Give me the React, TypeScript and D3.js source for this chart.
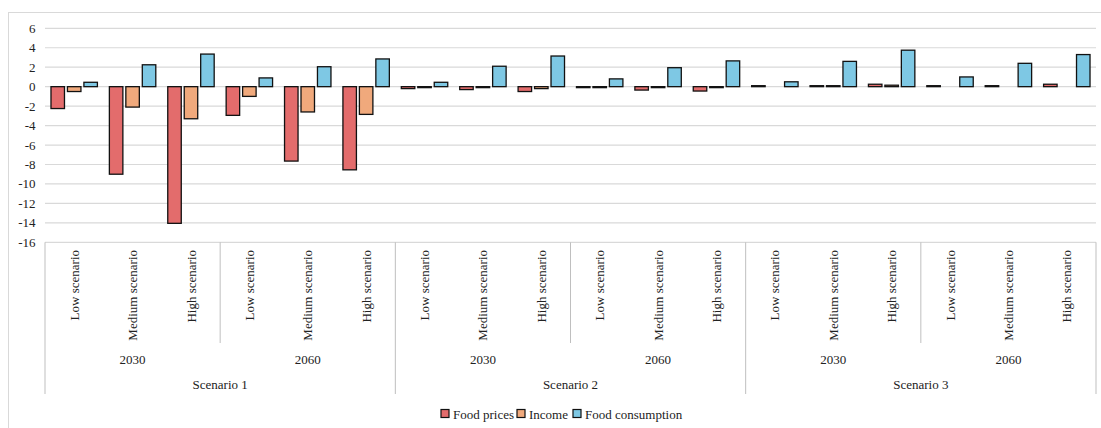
import React from "react";
import * as d3 from "d3";

const outerGroups = ["Scenario 1", "Scenario 2", "Scenario 3"];
const years = ["2030", "2060"];
const levels = ["Low scenario", "Medium scenario", "High scenario"];
const seriesNames = ["Food prices", "Income", "Food consumption"];
const seriesColors = ["#E36C6C", "#F0A97C", "#7EC8E4"];
const yTicks = [6, 4, 2, 0, -2, -4, -6, -8, -10, -12, -14, -16];

// order: S1-2030 L,M,H, S1-2060 L,M,H, S2-2030..., S3-2060 H
const foodPrices = [-2.25, -9.0, -14.05, -2.95, -7.65, -8.55, -0.2, -0.3, -0.5, -0.1, -0.35, -0.45, 0.1, 0.1, 0.25, 0.1, 0.1, 0.25];
const income = [-0.5, -2.1, -3.3, -1.0, -2.6, -2.85, -0.1, -0.1, -0.2, -0.1, -0.1, -0.1, 0, 0.1, 0.15, 0, 0, 0];
const foodConsumption = [0.45, 2.25, 3.35, 0.9, 2.05, 2.85, 0.45, 2.1, 3.15, 0.8, 1.95, 2.65, 0.5, 2.6, 3.75, 1.0, 2.4, 3.3];

const W = 1101;
const H = 428;
const left = 45;
const right = 1096;
const yTop = 28.3;
const yBottom = 242.3;

export default function App() {
  const cats: { outer: string; year: string; level: string; key: string }[] = [];
  outerGroups.forEach((o) =>
    years.forEach((yr) => levels.forEach((l) => cats.push({ outer: o, year: yr, level: l, key: `${o}|${yr}|${l}` })))
  );
  const x = d3.scaleBand<string>().domain(cats.map((c) => c.key)).range([left, right]).paddingInner(0.205).paddingOuter(0.1025);
  const step = x.step();
  const xs = d3.scaleBand<string>().domain(seriesNames).range([0, x.bandwidth()]).paddingInner(0.18);
  const y = d3.scaleLinear().domain([-16, 6]).range([yBottom, yTop]);
  const series = [foodPrices, income, foodConsumption];
  const textStyle: React.CSSProperties = { fontFamily: '"Liberation Serif", "Times New Roman", serif', fontSize: "13px" };

  const legendItems = [
    { name: seriesNames[0], x: 441 },
    { name: seriesNames[1], x: 517 },
    { name: seriesNames[2], x: 573 },
  ];

  return (
    <svg width={W} height={H} style={{ position: "absolute", left: 0, top: 0 }}>
      <rect x={0} y={0} width={W} height={H} fill="#fff" />
      <rect x={8.5} y={12.5} width={W} height={H} fill="none" stroke="#d9d9d9" strokeWidth={1} />
      {yTicks.map((t) => (
        <g key={t}>
          <line x1={left} x2={right} y1={y(t)} y2={y(t)} stroke="#d9d9d9" strokeWidth={1.2} />
          <text x={35.5} y={y(t)} dy="0.35em" textAnchor="end" style={textStyle} fill="#222">
            {t}
          </text>
        </g>
      ))}
      {d3.range(0, 19).map((i) => {
        const xx = left + i * step;
        if (i % 6 === 0) return <line key={i} x1={xx} x2={xx} y1={yBottom} y2={394} stroke="#bfbfbf" strokeWidth={1} />;
        if (i % 3 === 0) return <line key={i} x1={xx} x2={xx} y1={yBottom} y2={343} stroke="#bfbfbf" strokeWidth={1} />;
        return null;
      })}
      {series.map((vals, si) =>
        vals.map((v, ci) => {
          if (v === 0) return null;
          const bx = (x(cats[ci].key) as number) + (xs(seriesNames[si]) as number);
          const y0 = y(0);
          const y1 = y(v);
          return (
            <rect
              key={`${si}-${ci}`}
              x={bx}
              y={Math.min(y0, y1)}
              width={xs.bandwidth()}
              height={Math.abs(y1 - y0)}
              fill={seriesColors[si]}
              stroke="#111"
              strokeWidth={1.3}
            />
          );
        })
      )}
      {cats.map((c) => {
        const cx = (x(c.key) as number) + x.bandwidth() / 2;
        return (
          <text key={c.key} transform={`translate(${cx},250) rotate(-90)`} dy="0.35em" textAnchor="end" style={textStyle} fill="#222">
            {c.level}
          </text>
        );
      })}
      {outerGroups.map((o, oi) =>
        years.map((yr, yi) => {
          const cx = left + (oi * 6 + yi * 3 + 1.5) * step;
          return (
            <text key={o + yr} x={cx} y={359} dy="0.35em" textAnchor="middle" style={textStyle} fill="#222">
              {yr}
            </text>
          );
        })
      )}
      {outerGroups.map((o, oi) => (
        <text key={o} x={left + (oi * 6 + 3) * step} y={384} dy="0.35em" textAnchor="middle" style={textStyle} fill="#222">
          {o}
        </text>
      ))}
      {legendItems.map((li, i) => (
        <g key={li.name}>
          <rect x={li.x} y={409.5} width={8} height={8} fill={seriesColors[i]} stroke="#111" strokeWidth={1.2} />
          <text x={li.x + 12} y={414} dy="0.35em" style={textStyle} fill="#222">
            {li.name}
          </text>
        </g>
      ))}
    </svg>
  );
}
